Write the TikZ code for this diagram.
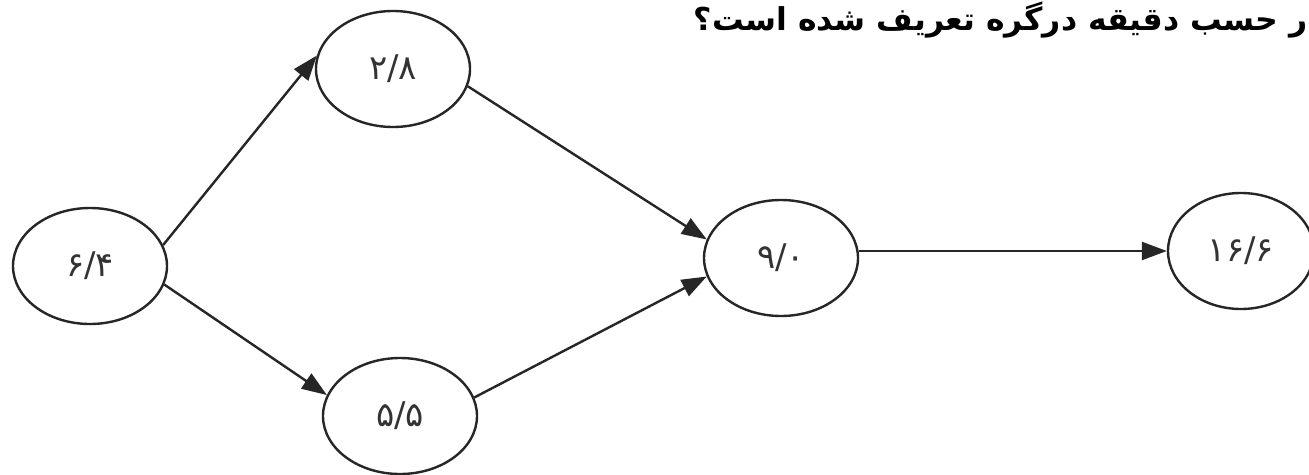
\documentclass[tikz,border=0pt]{standalone}
\usepackage{fontspec}
\usetikzlibrary{shapes.geometric,arrows.meta}
\TeXXeTstate=1
\newfontfamily\arabicfont[Script=Arabic]{DejaVu Sans}
\begin{document}
\begin{tikzpicture}[x=1pt,y=-1pt,
  evt/.style={ellipse,draw=black!85,line width=2.4pt,minimum width=154pt,minimum height=116pt,inner sep=0pt,
    font=\arabicfont\fontsize{34}{40}\selectfont,text=black!80},
  conn/.style={draw=black!85,line width=2.4pt,-{Triangle[length=25pt,width=18pt]}},
  ttl/.style={font=\arabicfont\bfseries\fontsize{31.5}{36}\selectfont,text=black,inner sep=0pt}]
\useasboundingbox (0,0) rectangle (1309,474);
\fill[white] (0,0) rectangle (1309,474);
\node[ttl,anchor=base east] (title) at (1308,30) {\beginR ر حسب دقیقه درگره تعریف شده است؟\endR};
\node[evt] (A) at (90,266) {۶/۴};
\node[evt] (B) at (393,69) {۲/۸};
\node[evt] (C) at (400,416) {۵/۵};
\node[evt] (D) at (781,258) {۹/۰};
\node[evt,minimum width=146pt] (E) at (1241,251) {۱۶/۶};
\draw[conn] (A.16) -- (B.170);
\draw[conn] (A.-14) -- (C.164);
\draw[conn] (B.-13) -- (D.166);
\draw[conn] (C.14) -- (D.194);
\draw[conn] (D.east |- E.west) -- (E.west);
\end{tikzpicture}
\end{document}
